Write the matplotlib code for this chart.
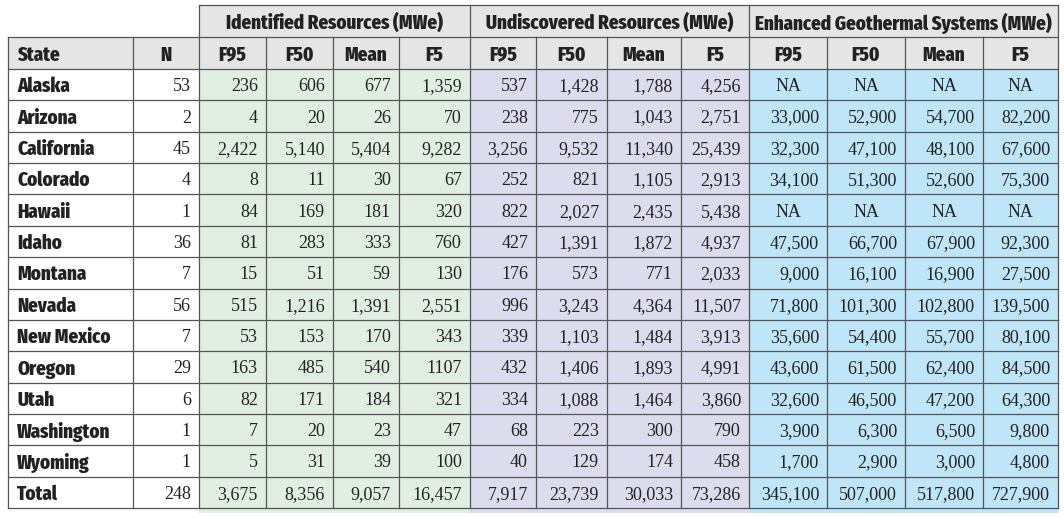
import os
import matplotlib
matplotlib.use("Agg")
import matplotlib.pyplot as plt
from matplotlib.patches import Rectangle
from matplotlib import font_manager as fm
from matplotlib.textpath import TextPath

states = ["Alaska", "Arizona", "California", "Colorado", "Hawaii", "Idaho", "Montana",
          "Nevada", "New Mexico", "Oregon", "Utah", "Washington", "Wyoming", "Total"]
n_sites = ["53", "2", "45", "4", "1", "36", "7", "56", "7", "29", "6", "1", "1", "248"]

group_titles = ["Identified Resources (MWe)", "Undiscovered Resources (MWe)",
                "Enhanced Geothermal Systems (MWe)"]
sub_headers = ["F95", "F50", "Mean", "F5"]

identified = [
    ["236", "606", "677", "1,359"],
    ["4", "20", "26", "70"],
    ["2,422", "5,140", "5,404", "9,282"],
    ["8", "11", "30", "67"],
    ["84", "169", "181", "320"],
    ["81", "283", "333", "760"],
    ["15", "51", "59", "130"],
    ["515", "1,216", "1,391", "2,551"],
    ["53", "153", "170", "343"],
    ["163", "485", "540", "1107"],
    ["82", "171", "184", "321"],
    ["7", "20", "23", "47"],
    ["5", "31", "39", "100"],
    ["3,675", "8,356", "9,057", "16,457"],
]
undiscovered = [
    ["537", "1,428", "1,788", "4,256"],
    ["238", "775", "1,043", "2,751"],
    ["3,256", "9,532", "11,340", "25,439"],
    ["252", "821", "1,105", "2,913"],
    ["822", "2,027", "2,435", "5,438"],
    ["427", "1,391", "1,872", "4,937"],
    ["176", "573", "771", "2,033"],
    ["996", "3,243", "4,364", "11,507"],
    ["339", "1,103", "1,484", "3,913"],
    ["432", "1,406", "1,893", "4,991"],
    ["334", "1,088", "1,464", "3,860"],
    ["68", "223", "300", "790"],
    ["40", "129", "174", "458"],
    ["7,917", "23,739", "30,033", "73,286"],
]
egs = [
    ["NA", "NA", "NA", "NA"],
    ["33,000", "52,900", "54,700", "82,200"],
    ["32,300", "47,100", "48,100", "67,600"],
    ["34,100", "51,300", "52,600", "75,300"],
    ["NA", "NA", "NA", "NA"],
    ["47,500", "66,700", "67,900", "92,300"],
    ["9,000", "16,100", "16,900", "27,500"],
    ["71,800", "101,300", "102,800", "139,500"],
    ["35,600", "54,400", "55,700", "80,100"],
    ["43,600", "61,500", "62,400", "84,500"],
    ["32,600", "46,500", "47,200", "64,300"],
    ["3,900", "6,300", "6,500", "9,800"],
    ["1,700", "2,900", "3,000", "4,800"],
    ["345,100", "507,000", "517,800", "727,900"],
]

# ---- layout (pixels) ----
W, H = 1064, 518
col_edges = [8, 133, 199, 266, 333, 399, 470, 536, 607, 681, 749, 827, 905, 983, 1058]
top, h1, h2, bottom = 5, 37, 69, 508
nrows = len(states)
row_h = (bottom - h2) / nrows

header_bg = "#e5e5e5"
group_bg = ["#e1efe3", "#dddbee", "#bee5f8"]
line_c = "#555555"
text_c = "#222222"
lw = 0.9

TARGET_W = 297.0   # px width of widest group title in the reference
TARGET_CAP = 14.3  # px cap height in the reference

NAME_BONUS = {"nimbus sans narrow": -0.6, "nimbussansnarrow": -0.6,
              "arial narrow": -0.5, "liberation sans narrow": -0.5,
              "helvetica": -0.5, "plex": 0.35}


def _weight(f):
    w = f.weight
    if isinstance(w, str):
        w = fm.weight_dict.get(w, 400)
    return w


def pick_head_font():
    ref_ratio = TARGET_CAP / TARGET_W
    best = None
    seen = set()
    for f in fm.fontManager.ttflist:
        if f.fname in seen:
            continue
        seen.add(f.fname)
        label = (f.name + " " + os.path.basename(f.fname)).lower()
        if ("serif" in label and "sans" not in label) or "mono" in label:
            continue
        if f.style != "normal" or "italic" in label or "oblique" in label:
            continue
        if "cjk" in label or "symbol" in label or "emoji" in label:
            continue
        w = _weight(f)
        if w < 600:
            continue
        try:
            fp = fm.FontProperties(fname=f.fname)
            tw = TextPath((0, 0), group_titles[2], size=100, prop=fp).get_extents().width
            ch = TextPath((0, 0), "H", size=100, prop=fp).get_extents().height
            iw = TextPath((0, 0), "I", size=100, prop=fp).get_extents().width
        except Exception:
            continue
        if tw <= 0 or ch <= 0:
            continue
        ratio = ch / tw
        score = abs(ratio - ref_ratio) / ref_ratio + 0.0004 * abs(w - 800)
        if iw / ch > 0.3:  # serifed capital I -> unlike Helvetica
            score += 0.5
        for key, b in NAME_BONUS.items():
            if key in label:
                score += b
        if best is None or score < best[0]:
            best = (score, f.fname, tw)
    if best is None:
        fp = fm.FontProperties(family=["Liberation Sans", "DejaVu Sans"], weight="bold")
        tw = TextPath((0, 0), group_titles[2], size=100, prop=fp).get_extents().width
        return fp, tw
    return fm.FontProperties(fname=best[1]), best[2]


head_fp, tw100 = pick_head_font()
hsize = TARGET_W / (tw100 / 100.0) * 72.0 / 100.0
hsize = min(hsize, 15.0)

num_family = ["Liberation Serif", "DejaVu Serif"]

fig = plt.figure(figsize=(W / 100, H / 100), dpi=100)
ax = fig.add_axes([0, 0, 1, 1])
ax.set_xlim(0, W)
ax.set_ylim(H, 0)
ax.axis("off")


def rect(x0, y0, x1, y1, fc):
    ax.add_patch(Rectangle((x0, y0), x1 - x0, y1 - y0, facecolor=fc,
                           edgecolor="none", zorder=1))


rect(col_edges[2], top, col_edges[-1], h2, header_bg)
rect(col_edges[0], h1, col_edges[2], h2, header_bg)
for g in range(3):
    rect(col_edges[2 + 4 * g], h2, col_edges[6 + 4 * g], bottom + 5, group_bg[g])


def hline(y, x0, x1):
    ax.plot([x0, x1], [y, y], color=line_c, lw=lw, zorder=3, solid_capstyle="projecting")


def vline(x, y0, y1):
    ax.plot([x, x], [y0, y1], color=line_c, lw=lw, zorder=3, solid_capstyle="projecting")


hline(top, col_edges[2], col_edges[-1])
hline(h1, col_edges[0], col_edges[-1])
for i in range(nrows + 1):
    hline(h2 + i * row_h, col_edges[0], col_edges[-1])
for j, x in enumerate(col_edges):
    if j in (2, 6, 10, 14):
        vline(x, top, bottom)
    else:
        vline(x, h1, bottom)


def htext(x, y, s, ha):
    ax.text(x, y, s, ha=ha, va="center_baseline", fontproperties=head_fp, fontsize=hsize,
            color=text_c, zorder=4)


for g, title in enumerate(group_titles):
    x0 = col_edges[2 + 4 * g]
    x1 = col_edges[6 + 4 * g]
    htext((x0 + x1) / 2, (top + h1) / 2, title, "center")
yh = (h1 + h2) / 2
htext(col_edges[0] + 9, yh, "State", "left")
htext((col_edges[1] + col_edges[2]) / 2, yh, "N", "center")
for g in range(3):
    for k, sh in enumerate(sub_headers):
        c = 2 + 4 * g + k
        htext((col_edges[c] + col_edges[c + 1]) / 2, yh, sh, "center")

nsize = 13
pad = 8
for i in range(nrows):
    yc = h2 + (i + 0.5) * row_h
    htext(col_edges[0] + 9, yc, states[i], "left")
    ax.text(col_edges[2] - pad, yc, n_sites[i], ha="right", va="center_baseline",
            fontsize=nsize, family=num_family, color=text_c, zorder=4)
    for g, data in enumerate([identified, undiscovered, egs]):
        for k in range(4):
            c = 2 + 4 * g + k
            v = data[i][k]
            if v == "NA":
                ax.text((col_edges[c] + col_edges[c + 1]) / 2, yc, v, ha="center",
                        va="center_baseline", fontsize=nsize, family=num_family,
                        color=text_c, zorder=4)
            else:
                ax.text(col_edges[c + 1] - pad, yc, v, ha="right", va="center_baseline",
                        fontsize=nsize, family=num_family, color=text_c, zorder=4)

fig.savefig("out.png", dpi=100, facecolor="white")
